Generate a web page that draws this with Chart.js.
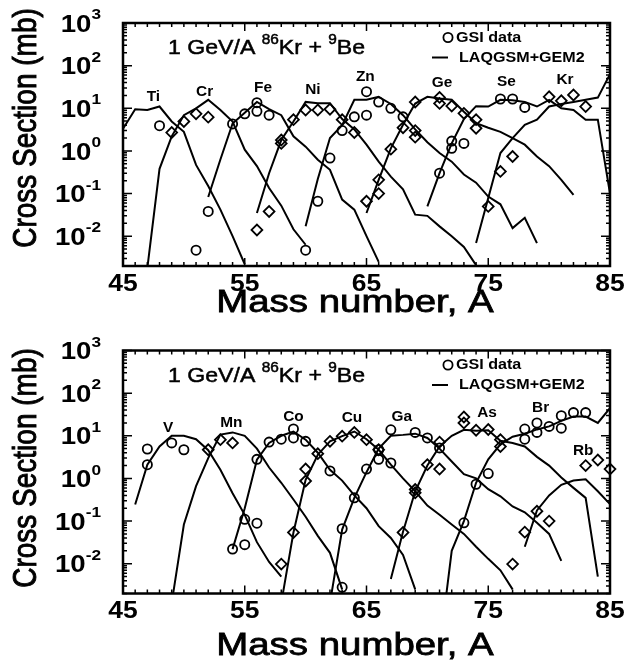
<!DOCTYPE html>
<html>
<head>
<meta charset="utf-8">
<script src="https://cdn.jsdelivr.net/npm/chart.js@4"></script>
<style>
  html, body { margin: 0; padding: 0; background: #fff; }
  canvas { display: block; }
</style>
</head>
<body>
<canvas id="topPanel" width="625" height="333"></canvas>
<canvas id="bottomPanel" width="625" height="334"></canvas>
<script>
const FONT = '"Liberation Sans", Arial, Helvetica, sans-serif';

// axis ticks
const massTicks = [45, 55, 65, 75, 85];
const decades = [-2, -1, 0, 1, 2, 3];

// LAQGSM+GEM2 curves: first mass number, then cross sections (mb) for A, A+1, ...
// top panel
const tiFrom = 45;
const tiCalc = [3.3, 9.5, 9.1, 11, 4.9, 2.8, 0.47, 0.15, 0.042, 0.010, 0.0022];
const crFrom = 47;
const crCalc = [0.0018, 0.38, 2.2, 6.9, 10, 15.8, 9.1, 4.9, 1.07, 0.44, 0.135, 0.052, 0.0145, 0.0063];
const feFrom = 52;
const feCalc = [0.083, 0.63, 4.4, 7.9, 14.1, 9.5, 6.9, 2.2, 1.26, 0.62, 0.36, 0.072, 0.042, 0.010, 0.0025];
const niFrom = 56;
const niCalc = [0.035, 0.30, 1.8, 4.9, 14.1, 13.2, 13.2, 5.6, 3.2, 1.4, 0.56, 0.25, 0.126, 0.032, 0.030, 0.017, 0.010, 0.0056, 0.0021];
const znFrom = 60;
const znCalc = [0.017, 0.22, 2.0, 4.0, 15.8, 15.8, 18.6, 12.6, 6.9, 3.2, 1.6, 0.89, 0.56, 0.28, 0.18, 0.085, 0.056, 0.0155, 0.027, 0.0069];
const geFrom = 65;
const geCalc = [0.035, 0.21, 1.15, 4.1, 12.9, 18.6, 17, 15.8, 8.3, 4.5, 3.5, 2.8, 2.0, 1.4, 0.74, 0.44, 0.21, 0.093];
const seFrom = 70;
const seCalc = [0.050, 0.30, 1.5, 5.6, 11.2, 11, 15.8, 15.5, 14.1, 11, 15.8, 10, 9.1, 5.4, 5.4, 0.1];
const krFrom = 74;
const krCalc = [0.0069, 0.079, 0.89, 2.0, 4.1, 5.4, 11, 12.6, 14.1, 15.8, 17.8, 63];

// bottom panel
const vFrom = 46;
const vCalc = [0.245, 2.1, 5.6, 10, 10, 8.3, 4.6, 1.6, 0.45, 0.14, 0.032, 0.011, 0.005];
const mnFrom = 49;
const mnCalc = [0.0012, 0.083, 0.66, 3.0, 10.7, 12, 10, 5.0, 1.8, 0.79, 0.32, 0.126, 0.045, 0.018, 0.0025];
const coFrom = 54;
const coCalc = [0.022, 0.2, 2.75, 6.8, 10, 12.6, 8.1, 4.0, 1.6, 0.89, 0.40, 0.20, 0.076, 0.040, 0.016, 0.0025];
const cuFrom = 58;
const cuCalc = [0.0012, 0.054, 0.93, 3.6, 7.4, 9.8, 12.6, 8.3, 4.7, 2.1, 1.0, 0.5, 0.23, 0.14, 0.083, 0.05, 0.025, 0.013, 0.007, 0.0025];
const gaFrom = 62;
const gaCalc = [0.0012, 0.063, 0.35, 1.4, 5.0, 10, 10.5, 11.2, 8.9, 5.0, 2.5, 1.26, 1.0, 0.56, 0.38, 0.22, 0.16, 0.091, 0.05, 0.0117];
const asFrom = 67;
const asCalc = [0.0044, 0.056, 0.5, 2.0, 5.6, 10, 13.8, 13.2, 13.5, 7.6, 6.8, 5.6, 3.2, 2.0, 1.05, 0.6, 0.35, 0.005];
const brFrom = 71;
const brCalc = [0.0001, 0.02, 0.1, 0.79, 2.8, 6.3, 9.5, 11.2, 14.1, 16.6, 22.4, 28.2, 28.2, 20, 44.7];
const rbFrom = 78;
const rbCalc = [0.025, 0.178, 0.4, 0.71, 0.89, 0.95, 0.5, 0.25];

// GSI data, [A, mb]; circles and diamonds alternate by element
const topCircles = [[48, 3.9], [51, 0.0047], [52, 0.038], [54, 4.3], [55, 7.4], [56, 8.5], [56, 13.5], [57, 6.9],
  [60, 0.0047], [61, 0.066], [62, 0.68], [63, 3.0], [64, 6.3], [65, 6.9], [65, 24.5], [66, 14], [67, 10], [68, 6.3],
  [71, 0.30], [72, 1.7], [72, 1.15], [73, 1.5], [76, 16.5], [77, 16.5], [78, 10.5]];
const topDiamonds = [[49, 2.7], [50, 4.9], [51, 7.4], [52, 6.2], [56, 0.014], [57, 0.038], [58, 1.8], [58, 1.5],
  [59, 5.4], [60, 9.1], [61, 9.1], [62, 9.5], [63, 5.4], [64, 2.7], [65, 0.066], [66, 0.10], [66, 0.21], [67, 1.1],
  [68, 3.5], [69, 3.0], [69, 2.1], [69, 14], [71, 18], [71, 13], [72, 11.3], [73, 7.6], [74, 5.4], [74, 3.4],
  [75, 0.05], [76, 0.33], [77, 0.74], [80, 18.6], [81, 15], [82, 20.5], [83, 11]];
const bottomCircles = [[47, 4.9], [47, 2.1], [49, 6.8], [50, 4.7], [54, 0.022], [55, 0.11], [55, 0.028], [56, 0.089],
  [56, 2.8], [57, 7.1], [58, 8.3], [59, 14.5], [59, 8.9], [60, 7.4], [62, 1.5], [63, 0.066], [63, 0.0028], [64, 0.35],
  [65, 1.66], [66, 4.7], [66, 2.8], [67, 13.8], [67, 2.3], [69, 12], [70, 8.9], [71, 5.2], [73, 0.091], [74, 0.73],
  [75, 1.3], [78, 8.3], [78, 14.4], [79, 12], [79, 20], [80, 16.6], [81, 15.1], [81, 29.5], [82, 35], [83, 35]];
const bottomDiamonds = [[52, 4.7], [53, 8.1], [54, 6.8], [58, 0.0098], [59, 0.054], [60, 1.66], [60, 0.87], [61, 3.8],
  [62, 7.4], [63, 9.8], [64, 12], [65, 8.1], [66, 4.7], [68, 0.054], [69, 0.55], [69, 0.46], [70, 2.1], [71, 1.66],
  [71, 7.1], [73, 27.5], [73, 20], [74, 13.5], [75, 14], [76, 8.1], [76, 5.6], [77, 0.0098], [78, 0.055], [79, 0.17],
  [80, 0.10], [83, 2.0], [84, 2.7], [85, 1.66]];

// element names and where they sit (A, mb)
const topNames = ['Ti', 'Cr', 'Fe', 'Ni', 'Zn', 'Ge', 'Se', 'Kr'];
const topNameA = [47.5, 51.7, 56.5, 60.6, 64.9, 71.2, 76.5, 81.3];
const topNameV = [18, 24, 29, 27, 54, 39, 41, 46];
const bottomNames = ['V', 'Mn', 'Co', 'Cu', 'Ga', 'As', 'Br', 'Rb'];
const bottomNameA = [48.7, 53.9, 59.0, 63.8, 67.9, 74.9, 79.3, 82.8];
const bottomNameV = [15, 20, 28, 26, 28, 34, 45, 4.4];

const series = (from, vals) => vals.map((v, i) => ({ x: from + i, y: v }));
const pairs = list => list.map(p => ({ x: p[0], y: p[1] }));

// the original figure is a little wider than tall, so its lettering is stretched sideways
const SX = 1.15;

// heavy = extra outline to thicken regular lettering a little
function text(ctx, s, x, y, font, sx, align, baseline, heavy) {
  ctx.save();
  ctx.font = font;
  ctx.textAlign = align;
  ctx.textBaseline = baseline;
  ctx.translate(x, y);
  ctx.scale(sx, 1);
  ctx.fillText(s, 0, 0);
  if (heavy) {
    ctx.lineWidth = heavy;
    ctx.strokeText(s, 0, 0);
  }
  ctx.restore();
}

function textWidth(ctx, s, font, sx) {
  ctx.save();
  ctx.font = font;
  const w = ctx.measureText(s).width * sx;
  ctx.restore();
  return w;
}

function framePlugin(names, nameA, nameV, look) {
  return {
    id: 'frame',
    afterDatasetsDraw(chart) {
      const { ctx, chartArea: a, scales: { x, y } } = chart;
      ctx.save();
      ctx.strokeStyle = '#000';
      ctx.fillStyle = '#000';

      // inward ticks on all four sides
      ctx.lineWidth = 1.5;
      ctx.beginPath();
      for (let m = 45; m <= 85; m++) {
        const px = x.getPixelForValue(m);
        const len = massTicks.includes(m) ? 8 : 4;
        ctx.moveTo(px, a.bottom); ctx.lineTo(px, a.bottom - len);
        ctx.moveTo(px, a.top); ctx.lineTo(px, a.top + len);
      }
      for (let e = -3; e <= 3; e++) {
        for (let k = 1; k <= 9; k++) {
          const v = k * Math.pow(10, e);
          if (v < y.min || v > y.max) continue;
          const py = y.getPixelForValue(v);
          const len = k === 1 ? 9 : 4;
          ctx.moveTo(a.left, py); ctx.lineTo(a.left + len, py);
          ctx.moveTo(a.right, py); ctx.lineTo(a.right - len, py);
        }
      }
      ctx.stroke();
      ctx.lineWidth = 2.5;
      ctx.strokeRect(a.left, a.top, a.right - a.left, a.bottom - a.top);

      // tick labels
      massTicks.forEach(m => text(ctx, String(m), x.getPixelForValue(m), a.bottom + 7,
        'bold 23px ' + FONT, SX, 'center', 'top'));
      decades.forEach(e => {
        const py = y.getPixelForValue(Math.pow(10, e));
        const right = a.left - 22;
        const expFont = 'bold 15px ' + FONT;
        const ew = textWidth(ctx, String(e), expFont, SX);
        text(ctx, String(e), right - ew, py - 8, expFont, SX, 'left', 'middle');
        text(ctx, '10', right - ew, py + 2, 'bold 24px ' + FONT, SX, 'right', 'middle');
      });

      // axis titles
      text(ctx, 'Mass number, A', (a.left + a.right) / 2 - 11.5, a.bottom + look.xTitle,
        '32px ' + FONT, 1.2, 'center', 'alphabetic', 0.8);
      ctx.save();
      ctx.translate(27, a.top + look.yTitle);
      ctx.scale(1.2, 1);
      ctx.rotate(-Math.PI / 2);
      ctx.font = '28px ' + FONT;
      ctx.textAlign = 'center';
      ctx.textBaseline = 'middle';
      ctx.fillText('Cross Section (mb)', 0, 0);
      ctx.lineWidth = 0.8;
      ctx.strokeText('Cross Section (mb)', 0, 0);
      ctx.restore();

      // reaction label
      let tx = a.left + 45;
      const ty = a.top + 31;
      const parts = [['1 GeV/A ', 21, 0], ['86', 14, -10], ['Kr + ', 21, 0], ['9', 14, -10], ['Be', 21, 0]];
      parts.forEach(([s, size, dy]) => {
        const f = size + 'px ' + FONT;
        text(ctx, s, tx, ty + dy, f, 1.1, 'left', 'alphabetic', 0.5);
        tx += textWidth(ctx, s, f, 1.1);
      });

      // legend
      const lx = a.right - 162;
      ctx.lineWidth = 1.8;
      ctx.beginPath();
      ctx.arc(lx, a.top + 14.5, 4.6, 0, Math.PI * 2);
      ctx.stroke();
      ctx.lineWidth = 2;
      ctx.beginPath();
      ctx.moveTo(lx - 16, a.top + 34.5);
      ctx.lineTo(lx, a.top + 34.5);
      ctx.stroke();
      text(ctx, 'GSI data', lx + 8, a.top + 15, 'bold 14px ' + FONT, 1.15, 'left', 'middle');
      text(ctx, 'LAQGSM+GEM2', lx + 11, a.top + 35, 'bold 14px ' + FONT, 1.15, 'left', 'middle');

      // element names
      names.forEach((n, i) => text(ctx, n, x.getPixelForValue(nameA[i]), y.getPixelForValue(nameV[i]),
        'bold 14px ' + FONT, 1.1, 'center', 'middle'));
      ctx.restore();
    }
  };
}

function panel(id, pad, look, curves, circles, diamonds, names, nameA, nameV) {
  const datasets = curves.map(c => ({
    data: c, borderColor: '#000', borderWidth: 2, pointRadius: 0, tension: 0, fill: false
  }));
  datasets.push({
    data: pairs(circles), showLine: false, pointStyle: 'circle', pointRadius: 4.6,
    borderWidth: 1.8, borderColor: '#000', backgroundColor: 'rgba(0,0,0,0)', clip: false
  });
  datasets.push({
    data: pairs(diamonds), showLine: false, pointStyle: 'rectRot', pointRadius: 5.4,
    borderWidth: 1.8, borderColor: '#000', backgroundColor: 'rgba(0,0,0,0)', clip: false
  });
  new Chart(document.getElementById(id), {
    type: 'line',
    data: { datasets },
    options: {
      responsive: false,
      animation: false,
      layout: { padding: pad },
      plugins: { legend: { display: false }, tooltip: { enabled: false } },
      scales: {
        x: { type: 'linear', min: 45, max: 85, display: false },
        y: { type: 'logarithmic', min: 0.002, max: 1000, display: false }
      }
    },
    plugins: [framePlugin(names, nameA, nameV, look)]
  });
}

panel('topPanel', { left: 123, right: 15, top: 23, bottom: 67 }, { xTitle: 45.5, yTitle: 105 },
  [series(tiFrom, tiCalc), series(crFrom, crCalc), series(feFrom, feCalc), series(niFrom, niCalc),
   series(znFrom, znCalc), series(geFrom, geCalc), series(seFrom, seCalc), series(krFrom, krCalc)],
  topCircles, topDiamonds, topNames, topNameA, topNameV);

panel('bottomPanel', { left: 123, right: 15, top: 17.5, bottom: 73.5 }, { xTitle: 61, yTitle: 117.5 },
  [series(vFrom, vCalc), series(mnFrom, mnCalc), series(coFrom, coCalc), series(cuFrom, cuCalc),
   series(gaFrom, gaCalc), series(asFrom, asCalc), series(brFrom, brCalc), series(rbFrom, rbCalc)],
  bottomCircles, bottomDiamonds, bottomNames, bottomNameA, bottomNameV);
</script>
</body>
</html>
